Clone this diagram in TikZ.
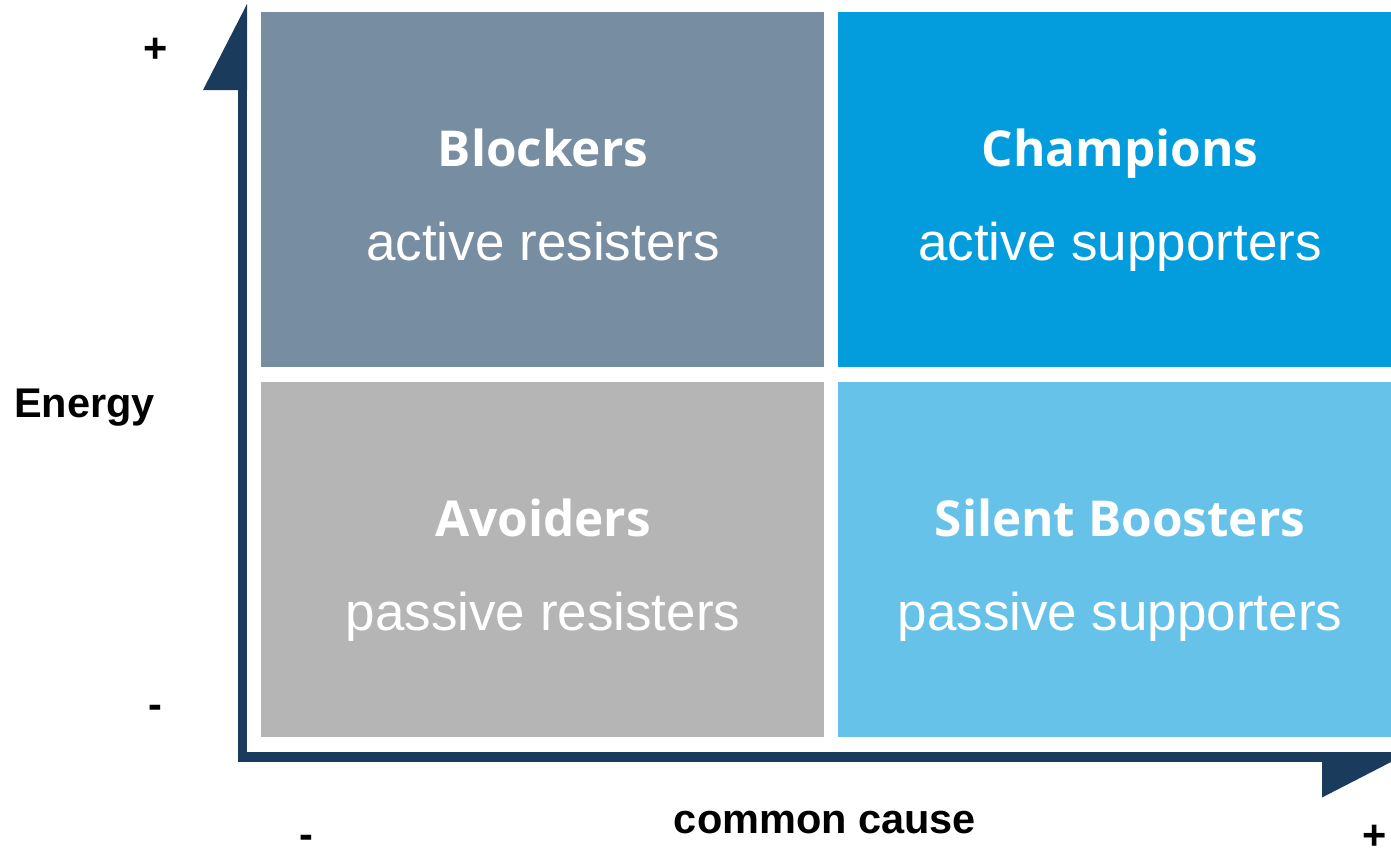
\documentclass[tikz,border=0pt]{standalone}
\usepackage{fontspec}
\setmainfont{Liberation Sans}
\newfontfamily\titlefont{Open Sans}
\definecolor{navy}{HTML}{1B3B5C}
\definecolor{blockc}{HTML}{778DA1}
\definecolor{champc}{HTML}{039DDD}
\definecolor{avoidc}{HTML}{B5B5B5}
\definecolor{silentc}{HTML}{67C2EA}
\begin{document}
\begin{tikzpicture}[x=1bp,y=-1bp,
  quad/.style={fill=#1, draw=none},
  ttl/.style={anchor=base, text=white, inner sep=0pt, font=\titlefont\bfseries\fontsize{49.5bp}{58bp}\selectfont},
  sub/.style={anchor=base, text=white, inner sep=0pt, font=\fontsize{53bp}{60bp}\selectfont},
  axlbl/.style={anchor=base, inner sep=0pt, font=\bfseries\fontsize{41.5bp}{48bp}\selectfont}]
\useasboundingbox (0,0) rectangle (1391,852);
% quadrants
\fill[quad=blockc] (261,12) rectangle (824,367);
\fill[quad=champc] (838,12) rectangle (1391,367);
\fill[quad=avoidc] (261,382) rectangle (824,737);
\fill[quad=silentc] (838,382) rectangle (1391,737);
% axes
\fill[navy] (238,90) rectangle (247,762);
\fill[navy] (238,752) rectangle (1322,762);
\fill[navy] (203,90) -- (247,4) -- (247,90) -- cycle;
\fill[navy] (1322,752) -- (1391,752) -- (1391,762) -- (1322,797.5) -- cycle;
% texts
\node[ttl] (bl) at (543,166) {Blockers};
\node[sub] (bls) at (543,260) {active resisters};
\node[ttl] (ch) at (1120,166) {Champions};
\node[sub] (chs) at (1120,260) {active supporters};
\node[ttl] (av) at (543,536) {Avoiders};
\node[sub] (avs) at (543,630) {passive resisters};
\node[ttl] (sb) at (1120,536) {Silent Boosters};
\node[sub] (sbs) at (1120,630) {passive supporters};
% axis labels
\node[axlbl, anchor=base west] (en) at (14,417) {Energy};
\node[axlbl] (cc) at (825,833) {common cause};
\node[axlbl] (yp) at (155.5,62) {+};
\node[axlbl] (ym) at (155.5,718) {-};
\node[axlbl] (xm) at (306,848) {-};
\node[axlbl] (xp) at (1374.5,849) {+};
\end{tikzpicture}
\end{document}
